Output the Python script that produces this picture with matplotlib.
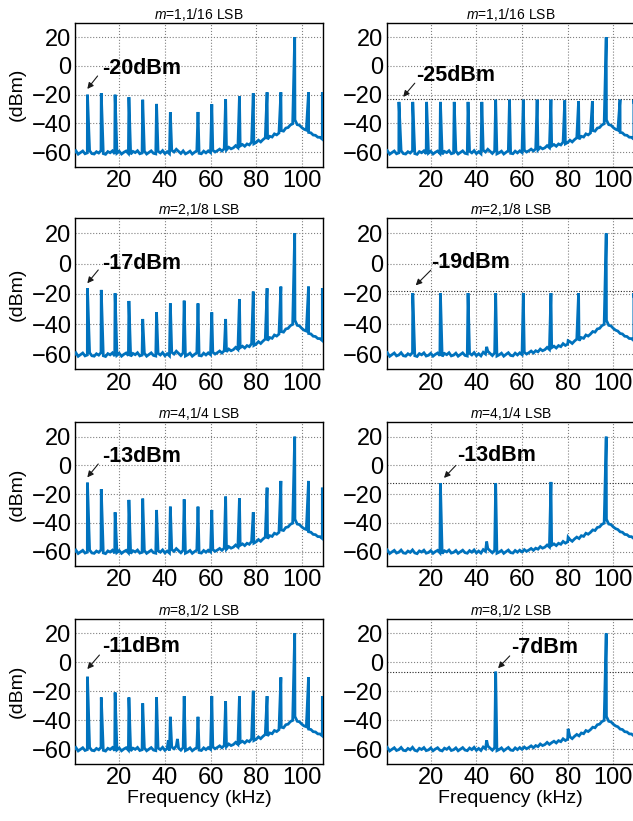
import numpy as np
import matplotlib
matplotlib.use("Agg")
import matplotlib.pyplot as plt

plt.rcParams['font.family'] = ['Liberation Sans', 'DejaVu Sans']
plt.rcParams['mathtext.fontset'] = 'custom'
plt.rcParams['mathtext.it'] = 'Liberation Sans:italic'
plt.rcParams['mathtext.rm'] = 'Liberation Sans'

# ---------------- data ----------------
# noise floor (dBm) read at 1 kHz steps, 0..110 kHz
floor_freq = np.arange(0, 111)
floor_dbm = [
    -60.8, -59.0, -61.3, -60.2, -59.1, -61.0, -60.4, -58.9, -60.9, -61.2,
    -59.6, -60.5, -58.8, -60.9, -61.4, -59.5, -60.3, -59.0, -61.1, -60.6,
    -59.3, -61.2, -60.0, -59.1, -60.8, -61.3, -59.4, -60.2, -58.9, -61.0,
    -60.5, -59.2, -61.2, -60.1, -59.0, -60.7, -61.1, -59.3, -60.4, -58.8,
    -60.9, -59.6, -61.0, -58.6, -59.8, -57.9, -59.4, -60.8, -59.0, -61.1,
    -60.3, -59.2, -61.2, -60.0, -58.9, -60.7, -61.0, -59.2, -60.4, -59.0,
    -60.2, -58.6, -59.8, -58.9, -57.8, -59.1, -57.6, -58.3, -56.5, -57.6,
    -56.9, -55.4, -56.8, -55.6, -54.6, -55.8, -54.2, -54.9, -52.9, -54.1,
    -53.2, -51.6, -52.8, -51.2, -49.9, -50.9, -48.9, -49.4, -47.2, -47.9,
    -46.6, -44.9, -45.3, -43.2, -42.8, -41.0, -40.2, -37.5, -40.8, -41.2,
    -42.8, -44.0, -44.6, -46.2, -46.5, -48.0, -48.2, -49.5, -49.6, -50.9,
    -51.0,
]

# spur / carrier frequencies (kHz)
spur_freq = [6.06, 12.11, 18.17, 24.23, 30.28, 36.34, 42.39, 48.45, 54.51,
             60.56, 66.62, 72.68, 78.73, 84.79, 90.84, 96.90, 102.96, 109.01]

N = None
lvl_m1_left = [-20, -19, -20, -21.7, -23.5, -26.4, -32.2, N, -32, -26.6,
               -23, -21, -19, -18.3, -18.3, 20, -18.3, -18.3]
lvl_m1_right = [-25, -25, -25, -25, -25, -25, -25, -23.5, -23.5, -23.5,
                -23.5, -23.5, -24, -24.5, -24.5, 20, -23.5, -23.5]
lvl_m2_left = [-16.3, -17.4, -19.6, -24.7, -36.6, -32.2, -26.3, -24.5, -26.3,
               -32.2, -36.6, -23.4, -18.5, -16.3, -15.2, 20, -15.2, -16.3]
lvl_m2_right = [N, -19.5, N, -19.5, N, -19.5, N, -19.5, N,
                -19.5, N, -19.5, N, -19.5, N, 20, N, -19.5]
lvl_m4_left = [-12, -16.6, -32.6, -24, -23.1, -31, -28.7, -23.6, -28.7,
               -31, -21.7, -22.9, -32.6, -15.5, -10.8, 20, -10.8, -15.5]
lvl_m4_right = [N, N, N, -12.5, N, N, N, -12.5, N,
                N, N, -11.5, N, N, N, 20, N, N]
lvl_m8_left = [-10, -24.3, -20.9, -24.3, -28.4, -24.3, -37.7, -23.4, -37.7,
               -23.4, -26.9, -23.4, -19.7, -23.4, -10.4, 20, -10.4, -23.4]
lvl_m8_right = [N, N, N, N, N, N, N, -6.5, N,
                N, N, N, N, N, N, 20, N, N]

# small extra bumps (freq kHz, level dBm)
extra_m2_right = [(44.5, -55.0), (80.2, -51.0)]
extra_m4_right = [(44.5, -53.0), (80.2, -50.0)]
extra_m8_left = [(41.5, -54.0), (45.5, -53.0)]
extra_m8_right = [(44.5, -54.0), (80.2, -46.0)]

ref_level_right = [-23, -18, -12, -7]

titles = ["1,1/16", "2,1/8", "4,1/4", "8,1/2"]
labels_left = ["-20dBm", "-17dBm", "-13dBm", "-11dBm"]
labels_right = ["-25dBm", "-19dBm", "-13dBm", "-7dBm"]

panels = [
    [(lvl_m1_left, []), (lvl_m1_right, [])],
    [(lvl_m2_left, []), (lvl_m2_right, extra_m2_right)],
    [(lvl_m4_left, []), (lvl_m4_right, extra_m4_right)],
    [(lvl_m8_left, extra_m8_left), (lvl_m8_right, extra_m8_right)],
]

# ---------------- layout ----------------
W, H = 633, 821
row_top = [22.7, 218.2, 422.3, 618.9]
row_bot = [166.7, 369.5, 566.0, 763.5]
col_x0 = [75.0, 386.5]
ax_w = 248.0

# annotation layout: (arrow head, arrow tail, text pos)
ann_left = [((6.0, -16), (10.5, -7), (12.3, -2)),
            ((6.0, -13), (10.8, -4.2), (12.3, 0.2)),
            ((6.0, -8.3), (10.8, 1.0), (12.3, 6.5)),
            ((6.0, -4.7), (11.3, 5.0), (12.3, 10.8))]
ann_right = [((7.9, -21.5), (13.0, -12), (13.7, -6.9)),
             ((13.4, -14.4), (20.0, -4.4), (20.0, 0.4)),
             ((25.8, -8.7), (31.0, 0.0), (31.7, 7.1)),
             ((49.5, -4.1), (54.6, 4.4), (55.4, 10.1))]

line_color = '#0072BD'

fig = plt.figure(figsize=(W / 100, H / 100), dpi=100)

for r in range(4):
    for c in range(2):
        x0 = col_x0[c]
        ax = fig.add_axes([x0 / W, 1 - row_bot[r] / H, ax_w / W,
                           (row_bot[r] - row_top[r]) / H])
        lvls, extra = panels[r][c]
        f = list(floor_freq)
        v = list(floor_dbm)
        for sf, sl in zip(spur_freq, lvls):
            if sl is not None:
                f.append(sf)
                v.append(sl)
        for ef, el in extra:
            f.append(ef)
            v.append(el)
        f = np.array(f, dtype=float)
        v = np.array(v, dtype=float)
        order = np.argsort(f, kind='stable')
        ax.plot(f[order], v[order], color=line_color, lw=2.0, zorder=3,
                solid_joinstyle='miter')

        ax.set_xlim(0.6, 109.3)
        ax.set_ylim(-70, 30)
        ax.set_xticks([20, 40, 60, 80, 100])
        ax.set_yticks([-60, -40, -20, 0, 20])
        ax.grid(True, color='0.5', ls=':', lw=0.8)
        ax.set_axisbelow(True)
        ax.tick_params(direction='in', length=0, labelsize=17)
        ax.tick_params(axis='x', pad=2.5)
        ax.tick_params(axis='y', pad=2.5)
        for s in ax.spines.values():
            s.set_linewidth(1.0)
            s.set_color('black')
        ax.set_title(r"$m$=" + titles[r] + " LSB", fontsize=10, pad=3)

        if c == 0:
            ax.set_ylabel("(dBm)", fontsize=14)
            ax.yaxis.set_label_coords(-0.20, 0.5)
            head, tail, tpos = ann_left[r]
            label = labels_left[r]
        else:
            ax.axhline(ref_level_right[r], color='0.15', ls=(0, (1, 1.5)),
                       lw=0.8, zorder=2)
            head, tail, tpos = ann_right[r]
            label = labels_right[r]

        ax.annotate('', xy=head, xytext=tail,
                    arrowprops=dict(arrowstyle='-|>', color='0.1', lw=0.8,
                                    mutation_scale=9, shrinkA=0, shrinkB=0),
                    zorder=5)
        ax.text(tpos[0], tpos[1], label, fontsize=15.5, fontweight='bold',
                ha='left', va='center', zorder=6)

        if r == 3:
            ax.set_xlabel("Frequency (kHz)", fontsize=14)
            ax.xaxis.set_label_coords(0.5, -0.185)

fig.savefig("out.png", dpi=100)
